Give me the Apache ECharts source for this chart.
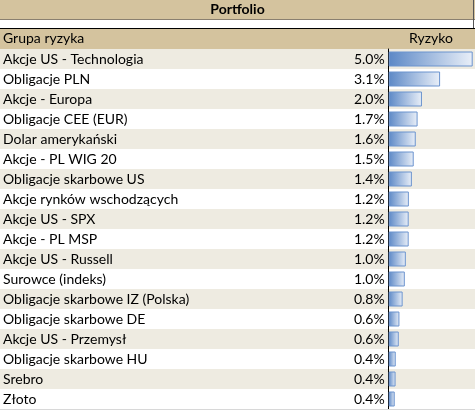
<!DOCTYPE html>
<html lang="pl">
<head>
    <meta charset="UTF-8">
    <title>Portfolio</title>
    <script src="https://cdn.jsdelivr.net/npm/echarts@6/dist/echarts.min.js"></script>
    <style>
        *{
            margin: 0;
            padding: 0;
        }
        html, body{
            background: #fff;
        }
        .container{
            width: 475px;
            height: 410px;
        }
    </style>
</head>
<body>
<div class="container"></div>
<script>
    // grupy ryzyka i ich udzial w ryzyku portfela (%)
    let groups=['Akcje US - Technologia','Obligacje PLN','Akcje - Europa','Obligacje CEE (EUR)',
        'Dolar amerykański','Akcje - PL WIG 20','Obligacje skarbowe US','Akcje rynków wschodzących',
        'Akcje US - SPX','Akcje - PL MSP','Akcje US - Russell','Surowce (indeks)',
        'Obligacje skarbowe IZ (Polska)','Obligacje skarbowe DE','Akcje US - Przemysł',
        'Obligacje skarbowe HU','Srebro','Złoto']
    let risk=[5.0,3.06,1.98,1.72,1.61,1.49,1.38,1.2,1.19,1.19,1.02,0.96,0.83,0.64,0.6,0.42,0.41,0.36]

    let tan='#D4C39E'
    let beige='#EEEBE1'
    let font='Lato'
    let ink='#000'

    let container=document.querySelector('.container')
    let echart=echarts.init(container)

    let option={
        animation:false,
        textStyle:{fontFamily:font},
        title:[
            {text:'Portfolio',left:'center',top:2,padding:0,
                textStyle:{fontSize:14,fontWeight:'bold',color:ink,fontFamily:font}},
            {text:'Grupa ryzyka',left:3,top:31,padding:0,
                textStyle:{fontSize:14,fontWeight:'normal',color:ink,fontFamily:font}},
            {text:'Ryzyko',left:409,top:31,padding:0,
                textStyle:{fontSize:14,fontWeight:'normal',color:ink,fontFamily:font}}
        ],
        graphic:[
            {type:'rect',z:0,shape:{x:0,y:0,width:475,height:20},style:{fill:tan}},
            {type:'line',z:1,shape:{x1:0,y1:19.5,x2:475,y2:19.5},style:{stroke:'#8a8070',lineWidth:1}},
            {type:'line',z:1,shape:{x1:473.5,y1:0,x2:473.5,y2:28},style:{stroke:'#555',lineWidth:1}},
            {type:'line',z:1,shape:{x1:0,y1:28.5,x2:475,y2:28.5},style:{stroke:'#000',lineWidth:1}},
            {type:'rect',z:0,shape:{x:0,y:29,width:475,height:20},style:{fill:tan}},
            {type:'line',z:1,shape:{x1:0,y1:409.5,x2:475,y2:409.5},style:{stroke:'#d8d8d8',lineWidth:1}}
        ],
        grid:[
            {left:0,right:0,top:49,height:360},
            {left:387,right:2.3,top:49,height:360}
        ],
        xAxis:[
            {gridIndex:0,type:'value',show:false},
            {gridIndex:1,type:'value',min:-0.1,max:5,show:false}
        ],
        yAxis:[
            {
                gridIndex:0,
                type:'category',
                inverse:true,
                data:groups,
                axisLine:{show:false},
                axisTick:{show:false},
                axisLabel:{inside:true,margin:3,color:ink,fontSize:14,fontFamily:font},
                splitArea:{show:true,areaStyle:{color:[beige,'#ffffff']}}
            },
            {
                gridIndex:1,
                type:'category',
                inverse:true,
                data:groups,
                axisLine:{show:true,lineStyle:{color:'#000',width:1}},
                axisTick:{show:false},
                axisLabel:{show:false}
            }
        ],
        series:[
            {
                type:'bar',
                xAxisIndex:1,
                yAxisIndex:1,
                data:risk,
                barWidth:15,
                itemStyle:{
                    color:new echarts.graphic.LinearGradient(0,0,1,0,[
                        {offset:0,color:'#5C88C6'},
                        {offset:1,color:'#E9EFF8'}
                    ]),
                    borderColor:'#6B93CE',
                    borderWidth:1
                },
                label:{
                    show:true,
                    position:'left',
                    distance:4,
                    color:ink,
                    fontSize:14,
                    fontFamily:font,
                    formatter:p=>p.value.toFixed(1)+'%'
                }
            }
        ]
    }

    echart.setOption(option)
</script>
</body>
</html>
